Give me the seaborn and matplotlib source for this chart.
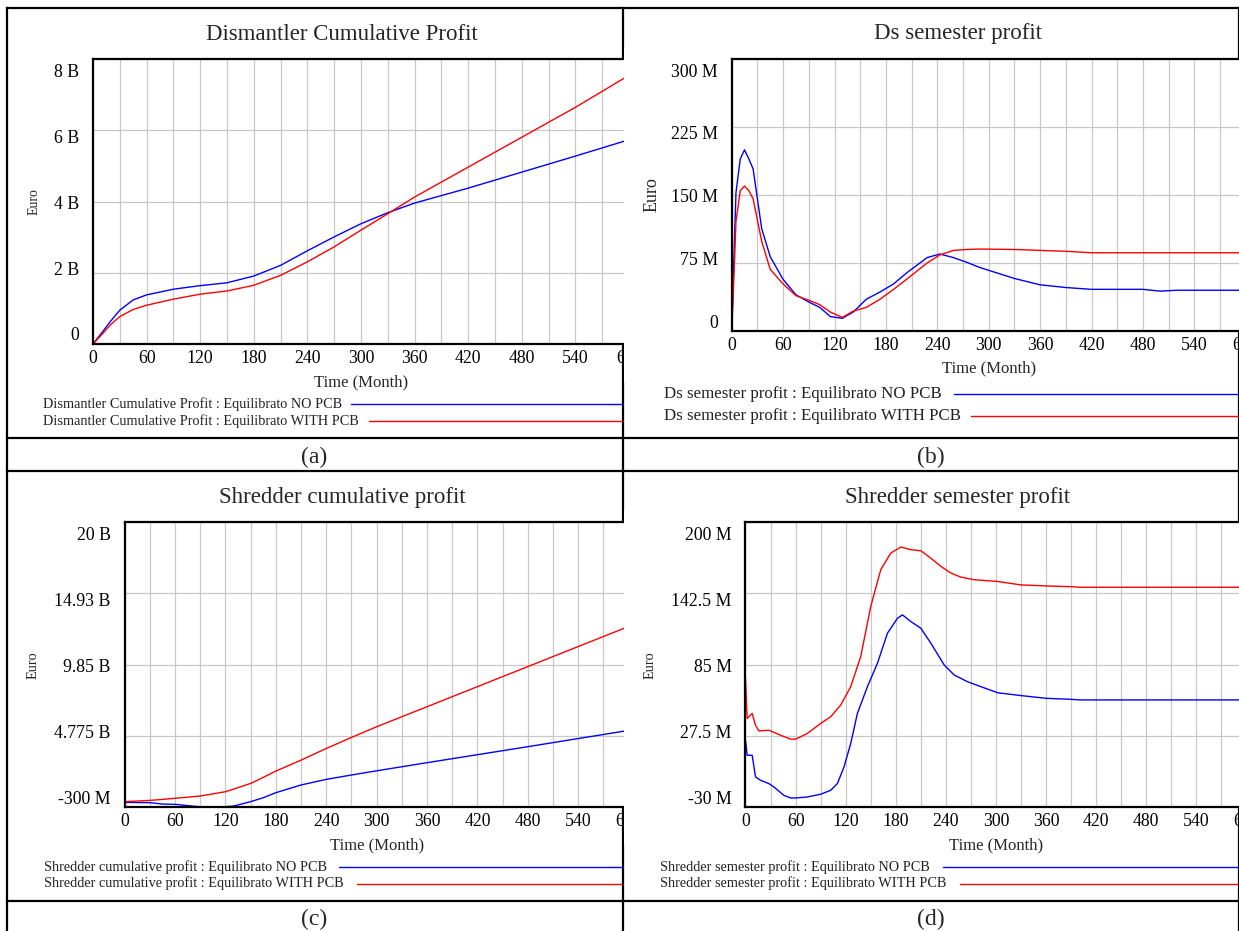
import matplotlib
matplotlib.use("Agg")
import pandas as pd
import matplotlib.pyplot as plt
import matplotlib.transforms as mtransforms
from matplotlib.lines import Line2D
from matplotlib.patches import Rectangle
import seaborn as sns

# ---- data ----
# (a) Dismantler cumulative profit, billion euro
t_a = [0, 10, 20, 30, 45, 60, 90, 120, 150, 180, 210, 240, 270, 300, 330, 360, 420, 480, 540, 600]
a_no = [0, 0.32, 0.65, 0.95, 1.24, 1.38, 1.54, 1.64, 1.72, 1.91, 2.21, 2.62, 3.01, 3.38, 3.69, 3.96, 4.38, 4.83, 5.28, 5.74]
a_with = [0, 0.27, 0.55, 0.77, 0.97, 1.09, 1.26, 1.40, 1.49, 1.65, 1.93, 2.31, 2.73, 3.20, 3.66, 4.13, 4.97, 5.81, 6.65, 7.55]

# (b) Ds semester profit, million euro
t_b = [0, 2, 5, 10, 15, 20, 25, 35, 45, 60, 75, 90, 103, 115, 129, 142, 157, 173, 189, 204,
       228, 243, 259, 274, 290, 330, 360, 390, 420, 480, 500, 520, 600]
b_no = [0, 62, 153, 190, 200, 190, 179, 113, 82, 57, 40, 32, 26, 16, 14, 21, 35, 43, 52, 64,
        81, 85, 81, 76, 70, 58, 51, 48, 46, 46, 44, 45, 45]
b_with = [0, 45, 121, 155, 160, 155, 146, 99, 68, 52, 39, 34, 29, 21, 15, 22, 26, 35, 46, 57,
          75, 84, 89, 90, 90.5, 90, 89, 88, 86.4, 86.4, 86.4, 86.4, 86.4]

# (c) Shredder cumulative profit, billion euro
t_c = [0, 30, 45, 60, 80, 90, 120, 130, 150, 165, 180, 210, 240, 270, 300, 360, 420, 480, 540, 600]
c_no = [0.03, 0.01, -0.09, -0.11, -0.23, -0.28, -0.28, -0.23, 0.08, 0.36, 0.72, 1.27, 1.67, 1.98, 2.28,
        2.86, 3.43, 4.00, 4.58, 5.16]
c_with = [0.08, 0.17, 0.24, 0.32, 0.43, 0.48, 0.79, 0.98, 1.38, 1.81, 2.26, 3.04, 3.87, 4.66, 5.42,
          6.85, 8.28, 9.71, 11.14, 12.57]

# (d) Shredder semester profit, million euro
t_d_no = [0, 2, 8, 12, 18, 28, 34, 46, 54, 60, 74, 90, 102, 110, 118, 126, 134, 146, 158, 170,
          182, 188, 198, 210, 222, 238, 250, 266, 282, 302, 330, 360, 390, 400, 600]
d_no = [24, 11.8, 11.8, -5.7, -8.4, -11.1, -13.8, -20.6, -22.7, -22.7, -21.9, -19.7, -16.5, -11.1, 2.4,
        21.3, 45.6, 67.2, 86.1, 110.4, 122.5, 125.2, 119.8, 114.4, 102.3, 84.7, 76.6, 71.2, 67.2, 62.3,
        60, 57.8, 57, 56.5, 56.5]
t_d_with = [0, 2, 8, 12, 16, 28, 42, 54, 60, 74, 90, 102, 114, 126, 138, 150, 162, 174, 186, 198,
            210, 222, 234, 246, 258, 274, 302, 330, 360, 390, 400, 600]
d_with = [74, 41.5, 45.6, 36, 31.5, 32, 28, 24.8, 24.8, 29.4, 37.5, 42.9, 52.3, 67.2, 91.5, 132,
          161.7, 175.2, 180, 177.9, 177, 171, 164.4, 159, 155.7, 153.6, 152.2, 149.4, 148.6, 148,
          147.5, 147.5]

yt_a = [0, 2, 4, 6, 8]
yl_a = ["0", "2 B", "4 B", "6 B", "8 B"]
yt_b = [0, 75, 150, 225, 300]
yl_b = ["0", "75 M", "150 M", "225 M", "300 M"]
yt_c = [-0.3, 4.775, 9.85, 14.925, 20]
yl_c = ["-300 M", "4.775 B", "9.85 B", "14.93 B", "20 B"]
yt_d = [-30, 27.5, 85, 142.5, 200]
yl_d = ["-30 M", "27.5 M", "85 M", "142.5 M", "200 M"]

titles = ["Dismantler Cumulative Profit", "Ds semester profit",
          "Shredder cumulative profit", "Shredder semester profit"]
scenarios = ["Equilibrato NO PCB", "Equilibrato WITH PCB"]
colors = {"Equilibrato NO PCB": "#0000ff", "Equilibrato WITH PCB": "#ff0000"}

sns.set_theme(style="white")
plt.rcParams["font.family"] = ["Liberation Serif", "DejaVu Serif"]

W, H = 1239, 931
fig = plt.figure(figsize=(W / 100, H / 100), dpi=100)


def fx(px):
    return px / W


def fy(py):
    return 1 - py / H


def hline(y, x0, x1, **kw):
    fig.add_artist(Line2D([fx(x0), fx(x1)], [fy(y), fy(y)], transform=fig.transFigure, **kw))


def vline(x, y0, y1, **kw):
    fig.add_artist(Line2D([fx(x), fx(x)], [fy(y0), fy(y1)], transform=fig.transFigure, **kw))


# table grid (sits under the plot areas, like the pasted chart images)
tk = dict(color="black", lw=1.6, zorder=0, solid_capstyle="projecting")
for y in [7.7, 437.7, 471, 901]:
    hline(y, 6.7, 1238.5, **tk)
for x in [6.7, 622.8, 1238.5]:
    vline(x, 7.7, 931, **tk)

panels = [
    dict(series=[(t_a, a_no), (t_a, a_with)], yt=yt_a, yl=yl_a, title=titles[0],
         box=(93, 59.3, 629, 344), title_xy=(342, 34), euro=(34, 202, 10),
         xlab_y=382, leg=(43, 404, 421, 351, 369, 622, 10.3), lab=("(a)", 314.5, 457), z=1),
    dict(series=[(t_b, b_no), (t_b, b_with)], yt=yt_b, yl=yl_b, title=titles[1],
         box=(731.7, 59.3, 1245.7, 331), title_xy=(958, 34), euro=(651.6, 195, 13),
         xlab_y=368, leg=(664, 394, 416, 954, 971, 1238.5, 12.2), lab=("(b)", 930.5, 457), z=2),
    dict(series=[(t_c, c_no), (t_c, c_with)], yt=yt_c, yl=yl_c, title=titles[2],
         box=(124.6, 522.3, 628.6, 807), title_xy=(342, 498), euro=(33, 665, 10.3),
         xlab_y=845, leg=(43.5, 867, 883.5, 339, 357, 622, 10.3), lab=("(c)", 314.5, 919), z=1),
    dict(series=[(t_d_no, d_no), (t_d_with, d_with)], yt=yt_d, yl=yl_d, title=titles[3],
         box=(745.5, 522.3, 1246.5, 807), title_xy=(958, 498), euro=(649.6, 665, 10.3),
         xlab_y=845, leg=(659.5, 867, 883.5, 943, 960, 1238.5, 10.3), lab=("(d)", 930.5, 919), z=2),
]

for p in panels:
    left, top, right, bottom = p["box"]
    ax = fig.add_axes([fx(left), fy(bottom), (right - left) / W, (bottom - top) / H], zorder=p["z"])
    ax.set_facecolor("white")

    frames = []
    for sc, (tt, vv) in zip(scenarios, p["series"]):
        frames.append(pd.DataFrame({"Month": tt, "Value": vv, "Scenario": sc}))
    df = pd.concat(frames, ignore_index=True)
    sns.lineplot(data=df, x="Month", y="Value", hue="Scenario", palette=colors,
                 ax=ax, legend=False, linewidth=1.0, errorbar=None)

    ax.set_xlim(0, 600)
    ax.set_ylim(p["yt"][0], p["yt"][-1])
    ax.set_xticks(range(0, 601, 60))
    ax.set_xticks(range(30, 600, 60), minor=True)
    ax.set_yticks(p["yt"], p["yl"])
    ax.grid(True, which="both", axis="x", color="#c8c8c8", lw=0.9)
    ax.grid(True, which="major", axis="y", color="#c8c8c8", lw=0.9)
    ax.tick_params(axis="both", which="both", length=0, labelsize=12.8, colors="black")
    ax.tick_params(axis="x", pad=4)
    ax.tick_params(axis="y", pad=10)
    for s in ax.spines.values():
        s.set_visible(True)
        s.set_color("black")
        s.set_linewidth(1.6)

    # Vensim pulls the end labels inward
    offs = [10, 4.75, -0.5, -5.75, -11]
    for lbl, off in zip(ax.get_yticklabels(), offs):
        lbl.set_transform(lbl.get_transform() +
                          mtransforms.ScaledTranslation(0, off / 100, fig.dpi_scale_trans))

    ax.set_xlabel("Time (Month)", fontsize=12)
    ax.xaxis.label.set_va("center")
    ax.xaxis.set_label_coords(fx((left + right) / 2), fy(p["xlab_y"]), transform=fig.transFigure)
    ex, ey, efs = p["euro"]
    ax.set_ylabel("Euro", fontsize=efs)
    ax.yaxis.label.set_va("center")
    ax.yaxis.set_label_coords(fx(ex), fy(ey), transform=fig.transFigure)

    tx, ty = p["title_xy"]
    fig.text(fx(tx), fy(ty), p["title"], ha="center", va="center", fontsize=16.5)

    lx, ly1, ly2, ls1, ls2, lend, lfs = p["leg"]
    for sc, yy, xs in zip(scenarios, [ly1, ly2], [ls1, ls2]):
        fig.text(fx(lx), fy(yy), f"{p['title']} : {sc}", ha="left", va="center",
                 fontsize=lfs, color="#222222")
        hline(yy, xs, lend, color=colors[sc], lw=1.0, zorder=3)

    lt, lxx, lyy = p["lab"]
    fig.text(fx(lxx), fy(lyy), lt, ha="center", va="center", fontsize=17)

    # left charts spill past the cell divider in the original: hide the overflow
    if p["z"] == 1:
        fig.add_artist(Rectangle((fx(624.3), fy(bottom + 38)), (643.5 - 624.3) / W, (bottom + 38 - top + 12) / H,
                                 transform=fig.transFigure, facecolor="white", edgecolor="none", zorder=1.5))

fig.savefig("out.png", dpi=100)
